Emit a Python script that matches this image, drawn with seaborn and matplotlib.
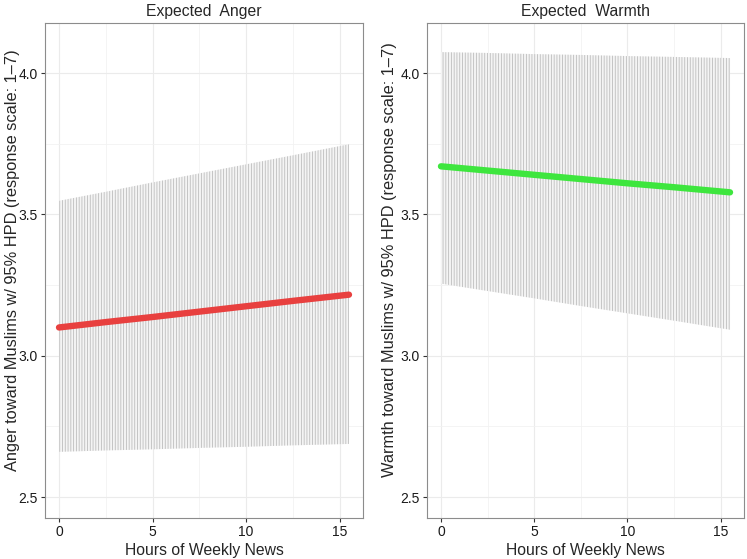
import matplotlib
matplotlib.use("Agg")
import matplotlib.pyplot as plt
import seaborn as sns
import pandas as pd
from matplotlib.ticker import MultipleLocator

# values (hours of weekly news -> expected response)
hours = [0, 2.5, 5, 7.5, 10, 12.5, 15.5]

anger_mean = [3.100, 3.119, 3.137, 3.156, 3.175, 3.194, 3.216]
anger_lower = [2.660, 2.665, 2.669, 2.674, 2.678, 2.683, 2.688]
anger_upper = [3.548, 3.580, 3.613, 3.645, 3.677, 3.709, 3.748]

warmth_mean = [3.670, 3.655, 3.640, 3.625, 3.610, 3.596, 3.578]
warmth_lower = [3.255, 3.229, 3.203, 3.176, 3.150, 3.124, 3.092]
warmth_upper = [4.074, 4.071, 4.067, 4.064, 4.060, 4.057, 4.053]

titles = ["Expected  Anger", "Expected  Warmth"]
ylabels = ["Anger toward Muslims w/ 95% HPD (response scale: 1\u20137)",
           "Warmth toward Muslims w/ 95% HPD (response scale: 1\u20137)"]
line_colors = ["#e8403f", "#3ee63e"]

sns.set_style("white")
plt.rcParams['font.family'] = ['Liberation Sans', 'DejaVu Sans']
plt.rcParams['hatch.linewidth'] = 0.6
plt.rcParams['hatch.color'] = '#bdbdbd'

fig = plt.figure(figsize=(7.47, 5.59), dpi=100)
W, H = 747, 559
boxes = [(45, 318), (427, 317)]
label_x = [-0.08, -0.096]
top, bottom = 23, 518

panels = [
    (anger_mean, anger_lower, anger_upper),
    (warmth_mean, warmth_lower, warmth_upper),
]

for i, (mean, lo, hi) in enumerate(panels):
    left, width = boxes[i]
    ax = fig.add_axes([left / W, (H - bottom) / H, width / W, (bottom - top) / H])
    df = pd.DataFrame({'hours': hours, 'mean': mean, 'lower': lo, 'upper': hi})

    # HPD band drawn as fine vertical lines
    ax.fill_between(df['hours'], df['lower'], df['upper'], facecolor='#f4f4f4',
                    edgecolor='#bdbdbd', hatch='||||||', linewidth=0, zorder=2)
    sns.lineplot(data=df, x='hours', y='mean', color=line_colors[i], linewidth=4.6,
                 solid_capstyle='round', ax=ax, zorder=3)

    ax.set_xlim(-0.75, 16.25)
    ax.set_ylim(2.426, 4.177)
    ax.xaxis.set_major_locator(MultipleLocator(5))
    ax.xaxis.set_minor_locator(MultipleLocator(2.5))
    ax.yaxis.set_major_locator(MultipleLocator(0.5))
    ax.yaxis.set_minor_locator(MultipleLocator(0.25))
    ax.set_yticks([2.5, 3.0, 3.5, 4.0])
    ax.set_yticklabels(['2.5', '3.0', '3.5', '4.0'])
    ax.grid(which='major', color='#ebebeb', linewidth=0.8, zorder=0)
    ax.grid(which='minor', color='#f2f2f2', linewidth=0.6, zorder=0)
    ax.set_axisbelow(True)
    for s in ax.spines.values():
        s.set_color('#8c8c8c')
        s.set_linewidth(0.8)
    ax.tick_params(which='major', direction='out', length=3, width=0.8,
                   color='#333333', labelsize=10, labelcolor='#1a1a1a', pad=2,
                   bottom=True, left=True)
    ax.tick_params(which='minor', length=0)
    ax.set_title(titles[i], fontsize=11.3, pad=5)
    ax.set_xlabel('Hours of Weekly News', fontsize=11.3, labelpad=3)
    ax.set_ylabel(ylabels[i], fontsize=11.8)
    ax.yaxis.set_label_coords(label_x[i], 0.521)

fig.savefig('out.png', dpi=100)
